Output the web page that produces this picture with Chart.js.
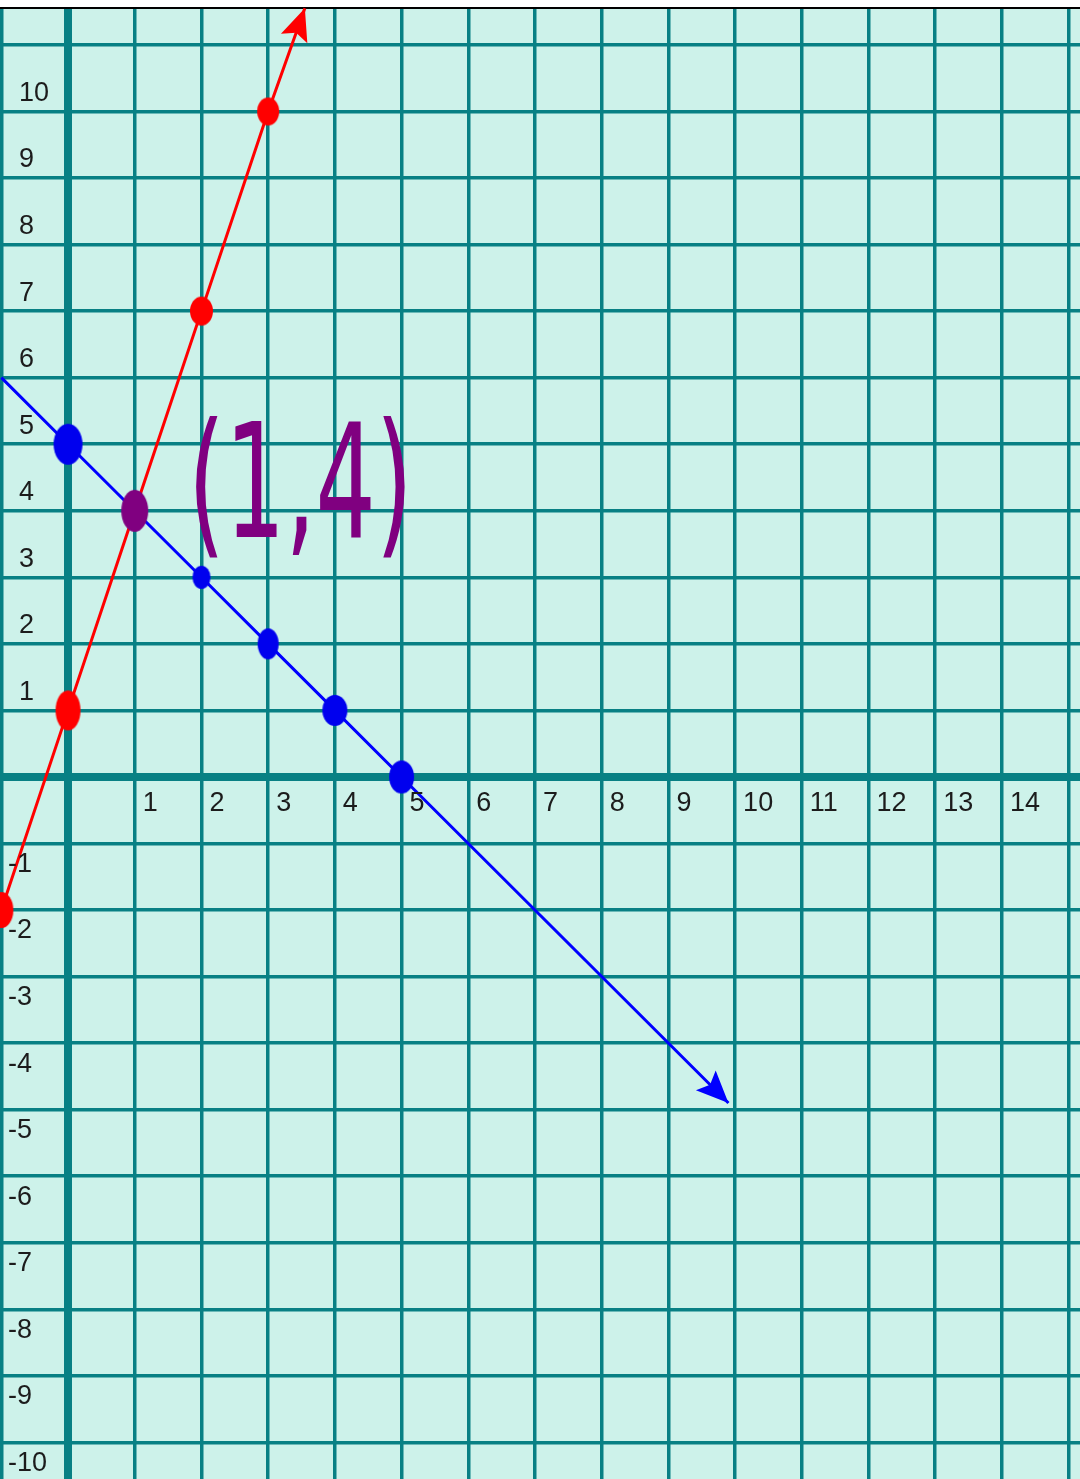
<!DOCTYPE html>
<html lang="en">
<head>
<meta charset="UTF-8">
<title>Two lines - intersection (1,4)</title>
<script src="https://cdn.jsdelivr.net/npm/chart.js@4.4.1/dist/chart.umd.min.js"></script>
<style>
    html, body { margin: 0; padding: 0; background: #ffffff; }
    .wrap { width: 1080px; height: 1479px; position: relative; }
</style>
</head>
<body>
<div class="wrap">
    <canvas id="grafico"></canvas>
</div>

<script>
// grid ticks and labels
const xTicks = [-1, 0, 1, 2, 3, 4, 5, 6, 7, 8, 9, 10, 11, 12, 13, 14, 15];
const yTicks = [-10, -9, -8, -7, -6, -5, -4, -3, -2, -1, 0, 1, 2, 3, 4, 5, 6, 7, 8, 9, 10, 11];
const xLabels = [1, 2, 3, 4, 5, 6, 7, 8, 9, 10, 11, 12, 13, 14];
const yLabels = [10, 9, 8, 7, 6, 5, 4, 3, 2, 1, -1, -2, -3, -4, -5, -6, -7, -8, -9, -10];

// red line y = 3x + 1 (last point is the arrow tip)
const redX = [-1, 0, 1, 2, 3, 3.55];
const redY = [-2, 1, 4, 7, 10, 11.55];
const redDot = [true, true, false, true, true, false];

// blue line y = -x + 5 (first point is the left edge, last is the arrow tip)
const blueX = [-1, 0, 1, 2, 3, 4, 5, 9.9];
const blueY = [6, 5, 4, 3, 2, 1, 0, -4.9];
const blueDot = [false, true, false, true, true, true, true, false];

// intersection
const interX = [1];
const interY = [4];
const interText = '(1,4)';

function pontos(xs, ys) {
    return xs.map((x, i) => ({ x: x, y: ys[i] }));
}

// little oval blobs, like the hand drawn dots
function blob(cor, w, h) {
    const c = document.createElement('canvas');
    c.width = w + 2; c.height = h + 2;
    const g = c.getContext('2d');
    g.fillStyle = cor;
    g.beginPath();
    g.ellipse(c.width / 2, c.height / 2, w / 2, h / 2, 0, 0, Math.PI * 2);
    g.fill();
    return c;
}

const redStyles = [blob('#ff0000', 24, 36), blob('#ff0000', 25, 40), 'circle', blob('#ff0000', 23, 29), blob('#ff0000', 22, 28), 'circle'];
const blueStyles = ['circle', blob('#0000ee', 29, 41), 'circle', blob('#0000ee', 18, 23), blob('#0000ee', 21, 31), blob('#0000ee', 25, 31), blob('#0000ee', 25, 33), 'circle'];

const fundo = {
    id: 'fundo',
    beforeDraw(chart) {
        const { ctx, chartArea: a } = chart;
        ctx.save();
        ctx.fillStyle = '#ffffff';
        ctx.fillRect(0, 0, chart.width, chart.height);
        ctx.fillStyle = '#cdf2ea';
        ctx.fillRect(a.left, a.top, a.right - a.left, a.bottom - a.top);
        ctx.strokeStyle = '#000000';
        ctx.lineWidth = 2;
        ctx.beginPath();
        ctx.moveTo(0, 8);
        ctx.lineTo(chart.width, 8);
        ctx.stroke();
        ctx.restore();
    }
};

const rotulos = {
    id: 'rotulos',
    afterDraw(chart) {
        const { ctx } = chart;
        const sx = chart.scales.x, sy = chart.scales.y;
        const y0 = sy.getPixelForValue(0);
        ctx.save();
        ctx.fillStyle = '#1c1c1c';
        ctx.font = '27px "Liberation Sans", Arial, sans-serif';
        ctx.textAlign = 'left';
        ctx.textBaseline = 'middle';
        xLabels.forEach(v => {
            ctx.fillText(String(v), sx.getPixelForValue(v) + 8, y0 + 27);
        });
        yLabels.forEach(v => {
            const py = sy.getPixelForValue(v);
            if (v > 0) ctx.fillText(String(v), 19, py - 18);
            else ctx.fillText(String(v), 8, py + 21);
        });

        // hand written intersection note
        const tx = sx.getPixelForValue(1.8), ty = sy.getPixelForValue(3.6);
        ctx.fillStyle = '#800080';
        ctx.font = '158px "DejaVu Sans", sans-serif';
        ctx.textBaseline = 'alphabetic';
        ctx.translate(tx, ty);
        ctx.scale(0.6, 1);
        ctx.fillText(interText, 0, 0);
        ctx.restore();
    }
};

const setas = {
    id: 'setas',
    afterDatasetsDraw(chart) {
        const { ctx } = chart;
        chart.data.datasets.forEach((ds, i) => {
            if (!ds.seta) return;
            const pts = chart.getDatasetMeta(i).data;
            const a = pts[pts.length - 2], b = pts[pts.length - 1];
            const ang = Math.atan2(b.y - a.y, b.x - a.x);
            const len = 32, half = 14;
            ctx.save();
            ctx.fillStyle = ds.seta;
            ctx.translate(b.x, b.y);
            ctx.rotate(ang);
            ctx.beginPath();
            ctx.moveTo(0, 0);
            ctx.lineTo(-len, -half);
            ctx.lineTo(-len + 6, 0);
            ctx.lineTo(-len, half);
            ctx.closePath();
            ctx.fill();
            ctx.restore();
        });
    }
};

function eixo(min, max, ticks) {
    return {
        type: 'linear',
        min: min,
        max: max,
        afterBuildTicks: (scale) => { scale.ticks = ticks.map(v => ({ value: v })); },
        ticks: { display: false },
        border: { display: false },
        grid: {
            color: '#088084',
            lineWidth: (c) => (c.tick && c.tick.value === 0 ? 8 : 3.5),
            drawTicks: false
        }
    };
}

const ctx = document.getElementById('grafico').getContext('2d');
new Chart(ctx, {
    type: 'scatter',
    data: {
        datasets: [
            {
                label: 'intersecao',
                data: pontos(interX, interY),
                pointStyle: blob('#800080', 27, 42),
                pointRadius: 14,
                backgroundColor: '#800080',
                borderColor: '#800080',
                showLine: false
            },
            {
                label: 'y = -x + 5',
                data: pontos(blueX, blueY),
                showLine: true,
                borderColor: '#0000ff',
                borderWidth: 3,
                backgroundColor: '#0000ee',
                pointStyle: blueStyles,
                pointRadius: blueDot.map(d => (d ? 12 : 0)),
                seta: '#0000ff',
                clip: false
            },
            {
                label: 'y = 3x + 1',
                data: pontos(redX, redY),
                showLine: true,
                borderColor: '#ff0000',
                borderWidth: 3,
                backgroundColor: '#ff0000',
                pointStyle: redStyles,
                pointRadius: redDot.map(d => (d ? 12 : 0)),
                seta: '#ff0000',
                clip: false
            }
        ]
    },
    options: {
        responsive: true,
        maintainAspectRatio: false,
        animation: false,
        layout: { autoPadding: false, padding: { top: 9, left: 0, right: 0, bottom: 0 } },
        plugins: {
            legend: { display: false },
            tooltip: { enabled: false }
        },
        elements: { line: { tension: 0 } },
        scales: {
            x: eixo(-1.02, 15.17, xTicks),
            y: eixo(-10.55, 11.54, yTicks)
        }
    },
    plugins: [fundo, rotulos, setas]
});
</script>
</body>
</html>
